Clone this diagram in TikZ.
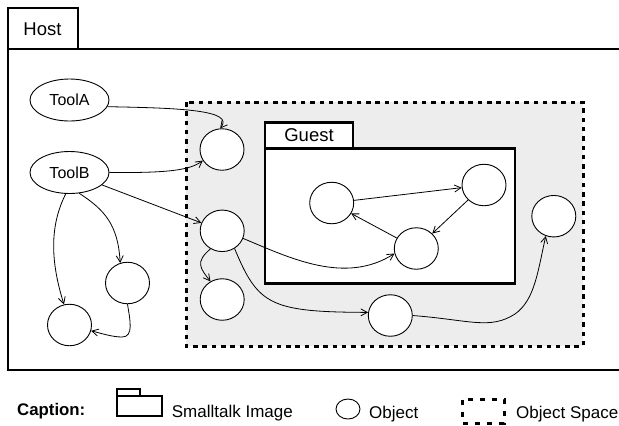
\documentclass[tikz,border=0pt]{standalone}
\usepackage{fontspec}
\setmainfont{Liberation Sans}
\usetikzlibrary{arrows.meta,shapes.geometric}
\definecolor{spacegray}{HTML}{EDEDED}
\begin{document}
\begin{tikzpicture}[x=1bp,y=-1bp,
  heavy/.style={line width=2.6bp},
  spacebox/.style={line width=3bp, dash pattern=on 4.5bp off 4.8bp},
  tool/.style={ellipse, draw, fill=white, line width=0.9bp, minimum width=79bp, minimum height=42bp, inner sep=0pt, font=\fontsize{16bp}{18bp}\selectfont},
  obj/.style={ellipse, draw, fill=white, line width=0.9bp, minimum width=44bp, minimum height=41.5bp, inner sep=0pt},
  link/.style={line width=0.8bp, -{Straight Barb[length=6.5bp,width=7bp]}},
  title/.style={font=\fontsize{18.5bp}{22bp}\selectfont, inner sep=0pt, anchor=base},
  legend/.style={font=\fontsize{17bp}{20bp}\selectfont, inner sep=0pt, anchor=base west}
]
\useasboundingbox (0,0) rectangle (619,425);
\clip (0,0) rectangle (619,425);

% Host image
\draw[heavy, fill=white] (8,49) rectangle (640,370);
\draw[heavy, fill=white] (8,8) rectangle (78,49);
\node[title] (host) at (42.5,35) {Host};

% Object space
\fill[spacegray] (186,102) rectangle (583,346);
\draw[spacebox] (186,102) rectangle (583,346);

% Guest image
\draw[heavy, fill=white] (265,148.5) rectangle (515,283.5);
\draw[heavy, fill=white] (265,122.5) rectangle (353,148.5);
\node[title] (guest) at (309,141.7) {Guest};

% Nodes
\node[tool] (toolA) at (69.5,100) {ToolA};
\node[tool] (toolB) at (69.5,172.5) {ToolB};
\node[obj] (o1) at (222,149.5) {};
\node[obj] (o2) at (222.2,230.8) {};
\node[obj] (o3) at (222.2,299.5) {};
\node[obj] (o4) at (127.5,283) {};
\node[obj] (o5) at (69.5,325) {};
\node[obj] (g1) at (331.7,203) {};
\node[obj] (g2) at (484,185) {};
\node[obj] (g3) at (416.3,248.5) {};
\node[obj] (o6) at (553.8,216.2) {};
\node[obj] (o7) at (390.3,315.5) {};

% Connectors
\draw[link] (toolA.-10) .. controls (180,108) and (235,110) .. (o1.95);
\draw[link] (toolB.east) .. controls (170,173) and (190,170) .. (o1.210);
\draw[link] (toolB) -- (o2);
\draw[link] (toolB.260) .. controls (50,225) and (50,260) .. (o5.105);
\draw[link] (toolB.295) .. controls (105,210) and (118,225) .. (o4.110);
\draw[link] (o4.south) .. controls (130,320) and (134,337) .. (122,337) .. controls (112,337) and (100,333) .. (o5.-15);
\draw[link] (o2.237) .. controls (195,262) and (200,268) .. (o3.123);
\draw[link] (o2.-20) .. controls (290,258) and (345,285) .. (g3.193);
\draw[link] (o2.-55) .. controls (258,305) and (270,312) .. (o7.172);
\draw[link] (o7.east) .. controls (470,320) and (490,330) .. (515,314) .. controls (535,300) and (538,270) .. (o6.248);
\draw[link] (g1) -- (g2);
\draw[link] (g2) -- (g3);
\draw[link] (g3) -- (g1);

% Caption
\node[font=\bfseries\fontsize{16.8bp}{20bp}\selectfont, inner sep=0pt, anchor=base west] (cap) at (17,415) {Caption:};
\draw[line width=2bp] (117,396) rectangle (161.7,416);
\draw[line width=2bp] (117,389) rectangle (140,396);
\node[legend] (lsi) at (171.7,417.7) {Smalltalk Image};
\node[obj, minimum width=24bp, minimum height=20bp] (lobj) at (348,409) {};
\node[legend] (lo) at (369,418.3) {Object};
\draw[spacebox, dash pattern=on 5bp off 7bp] (462.5,399.5) rectangle (504,423);
\node[legend] (los) at (516,418.3) {Object Space};
\end{tikzpicture}
\end{document}
